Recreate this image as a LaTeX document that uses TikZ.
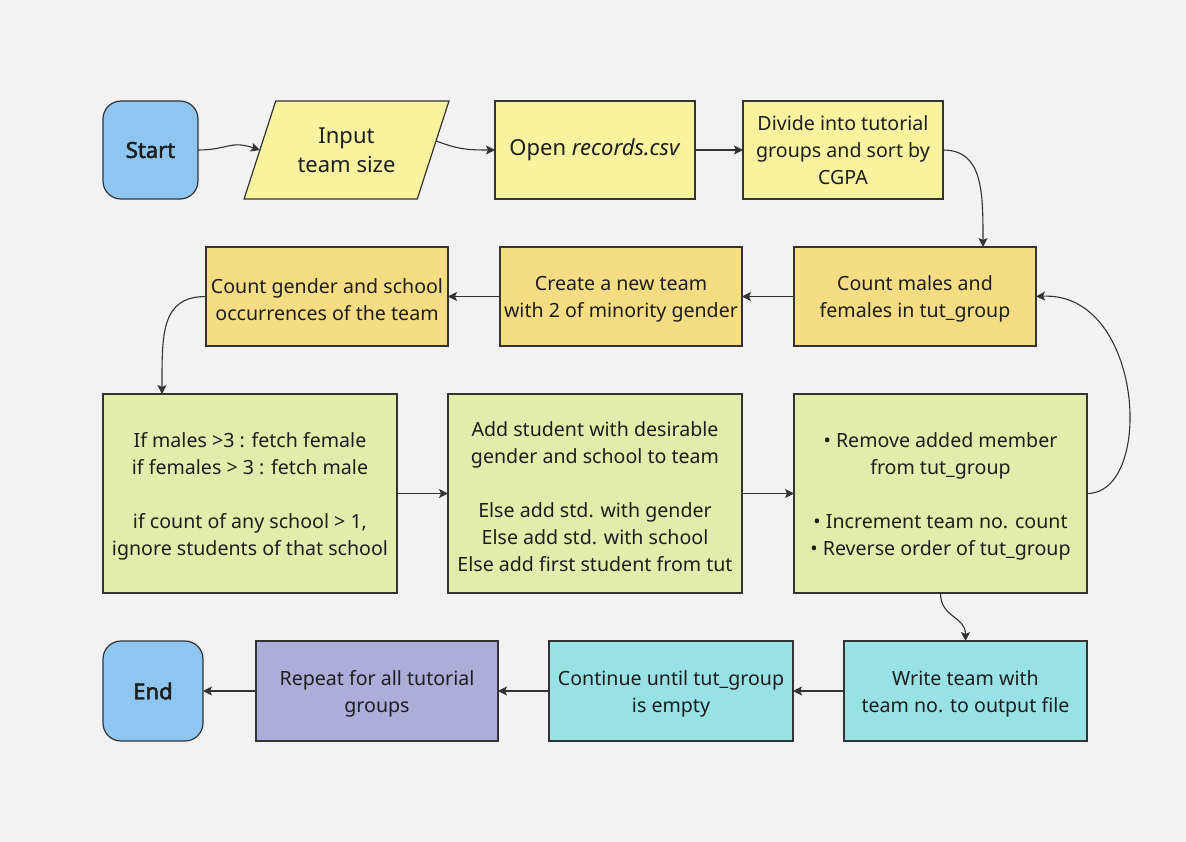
\documentclass[tikz,border=0pt]{standalone}
\usepackage{fontspec}
\setmainfont{Noto Sans}
\newfontfamily\termfont{Noto Sans}[FakeBold=2.2]
\usetikzlibrary{arrows.meta,shapes.geometric,calc}
\definecolor{bgc}{HTML}{F2F2F2}
\definecolor{cblue}{HTML}{8FC6F1}
\definecolor{cyel}{HTML}{F9F29E}
\definecolor{corg}{HTML}{F6DC82}
\definecolor{cgrn}{HTML}{E3EDAB}
\definecolor{ccyan}{HTML}{98E2E6}
\definecolor{cpur}{HTML}{AAAED8}
\definecolor{cline}{HTML}{333333}
\definecolor{ctext}{HTML}{1E1E1E}
\newcommand\dnstrut{\rule{0pt}{20.5pt}}
\begin{document}
\begin{tikzpicture}[x=1pt,y=-1pt,
  box/.style={draw=cline, line width=1.2pt, inner sep=0pt, outer sep=0pt, align=center,
    text=ctext, font=\fontsize{19.6}{27}\selectfont},
  bigbox/.style={box, font=\fontsize{22}{29}\selectfont},
  term/.style={box, fill=cblue, rounded corners=18pt, font=\fontsize{22}{29}\selectfont\termfont},
  conn/.style={draw=cline, line width=1.1pt, -{Stealth[length=9pt,width=9pt,inset=2pt]}}
]
\useasboundingbox (0,0) rectangle (1186,842);
\fill[bgc] (0,0) rectangle (1186,842);

% Row 1
\node[term, minimum width=95pt, minimum height=98pt] (start) at (150.5,150) {Start};
\node[bigbox, fill=cyel, trapezium, trapezium stretches=true, trapezium left angle=64, trapezium right angle=116,
  minimum width=205pt, minimum height=98pt] (inp) at (346.5,150) {Input\\team size};
\node[bigbox, fill=cyel, minimum width=200pt, minimum height=98pt] (open) at (595,150) {Open \textit{records.csv}};
\node[box, fill=cyel, minimum width=200pt, minimum height=98pt] (divide) at (843,150) {Divide into tutorial\\groups and sort by\\CGPA};

% Row 2
\node[box, fill=corg, minimum width=242pt, minimum height=99pt] (cmf) at (915,296.5) {\dnstrut Count males and\\females in tut\_group};
\node[box, fill=corg, minimum width=242pt, minimum height=99pt] (create) at (621,296.5) {\dnstrut Create a new team\\with 2 of minority gender};
\node[box, fill=corg, minimum width=242pt, minimum height=99pt] (cgs) at (327,296.5) {\dnstrut Count gender and school\\occurrences of the team};

% Row 3
\node[box, fill=cgrn, minimum width=294pt, minimum height=199pt] (ifm) at (250,493.5)
  {\dnstrut If males >3 : fetch female\\if females > 3 : fetch male\\[27pt]if count of any school > 1,\\ignore students of that school};
\node[box, fill=cgrn, minimum width=294pt, minimum height=199pt] (add) at (595,493.5)
  {\dnstrut Add student with desirable\\gender and school to team\\[27pt]Else add std. with gender\\Else add std. with school\\Else add first student from tut};
\node[box, fill=cgrn, minimum width=293pt, minimum height=199pt] (rem) at (940.5,493.5)
  {\dnstrut • Remove added member\\from tut\_group\\[27pt]• Increment team no. count\\• Reverse order of tut\_group};

% Row 4
\node[box, fill=ccyan, minimum width=243pt, minimum height=100pt] (write) at (965.5,691) {\dnstrut Write team with\\team no. to output file};
\node[box, fill=ccyan, minimum width=244pt, minimum height=100pt] (cont) at (671,691) {\dnstrut Continue until tut\_group\\is empty};
\node[box, fill=cpur, minimum width=242pt, minimum height=100pt] (rep) at (377,691) {\dnstrut Repeat for all tutorial\\groups};
\node[term, minimum width=100pt, minimum height=100pt] (end) at (153,691) {End};

% Connectors
\draw[conn] (start.east) .. controls +(30,0) and +(-30,-10) .. (inp.west);
\draw[conn] ([xshift=3pt,yshift=9pt]inp.east) .. controls +(22,8) and +(-30,0) .. (open.west);
\draw[conn] (open.east) -- (divide.west);
\draw[conn] (divide.east) .. controls +(40,0) and +(0,-55) .. ([xshift=-53pt]cmf.north east);
\draw[conn] (cmf.west) -- (create.east);
\draw[conn] (create.west) -- (cgs.east);
\draw[conn] (cgs.west) .. controls +(-45,0) and +(0,-60) .. ([xshift=59pt]ifm.north west);
\draw[conn] (ifm.east) -- (add.west);
\draw[conn] (add.east) -- (rem.west);
\draw[conn] (rem.east) .. controls +(68,0) and +(108,-5) .. (cmf.east);
\draw[conn] (rem.south) .. controls +(0,25) and +(0,-25) .. (write.north);
\draw[conn] (write.west) -- (cont.east);
\draw[conn] (cont.west) -- (rep.east);
\draw[conn] (rep.west) -- (end.east);
\end{tikzpicture}
\end{document}
